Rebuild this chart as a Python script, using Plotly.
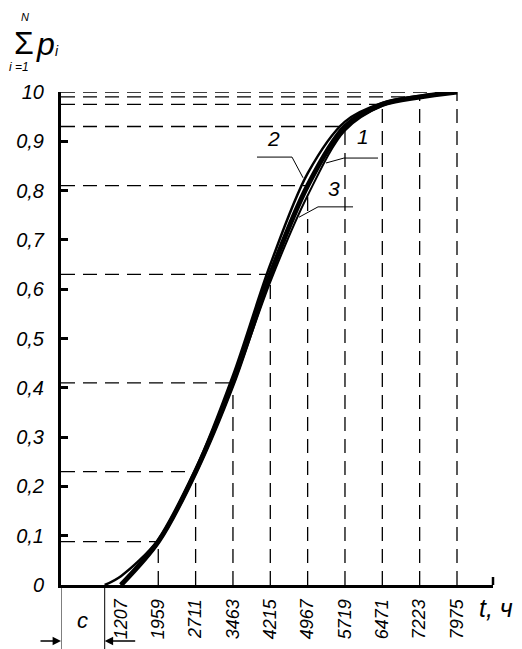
import plotly.graph_objects as go

# ---- data ----
t_ticks = [1207, 1959, 2711, 3463, 4215, 4967, 5719, 6471, 7223, 7975]
t_labels = ["1207", "1959", "2711", "3463", "4215", "4967", "5719", "6471", "7223", "7975"]
F_emp = [0, 0.088, 0.23, 0.41, 0.63, 0.81, 0.93, 0.975, 0.99, 1.0]

c_shift = 880
t_curve2 = [880, 1207, 1959, 2711, 3463, 4215, 4967, 5719, 6471, 7223, 7975]
F_curve2 = [0, 0.018, 0.092, 0.235, 0.425, 0.65, 0.835, 0.94, 0.978, 0.992, 1.0]
t_curve3 = [1207, 1959, 2711, 3463, 4215, 4967, 5719, 6471, 7223, 7975]
F_curve3 = [0, 0.085, 0.225, 0.405, 0.615, 0.79, 0.922, 0.972, 0.99, 1.0]

y_ticks = [0, 0.1, 0.2, 0.3, 0.4, 0.5, 0.6, 0.7, 0.8, 0.9, 1.0]
y_labels = ["0", "0,1", "0,2", "0,3", "0,4", "0,5", "0,6", "0,7", "0,8", "0,9", "10"]

FONT = "Liberation Sans Narrow, Liberation Sans, Arial, sans-serif"
DASH = "14px,8px"

fig = go.Figure()

# dashed guide lines
hx, hy, vx, vy = [], [], [], []
for t, F in zip(t_ticks[1:], F_emp[1:]):
    hx += [0, t, None]
    hy += [F, F, None]
    vx += [t, t, None]
    vy += [0, F, None]
fig.add_trace(go.Scatter(x=hx, y=hy, mode="lines", line=dict(color="black", width=1.3, dash=DASH),
                         hoverinfo="skip", showlegend=False, cliponaxis=False))
fig.add_trace(go.Scatter(x=vx, y=vy, mode="lines", line=dict(color="black", width=1.3, dash=DASH),
                         hoverinfo="skip", showlegend=False, cliponaxis=False))

# curves
fig.add_trace(go.Scatter(x=t_curve2, y=F_curve2, mode="lines", name="2",
                         line=dict(color="black", width=2.5, shape="spline", smoothing=0.9),
                         showlegend=False, cliponaxis=False))
fig.add_trace(go.Scatter(x=t_curve3, y=F_curve3, mode="lines", name="3",
                         line=dict(color="black", width=2, shape="spline", smoothing=0.9),
                         showlegend=False, cliponaxis=False))
fig.add_trace(go.Scatter(x=t_ticks, y=F_emp, mode="lines", name="1",
                         line=dict(color="black", width=5, shape="spline", smoothing=0.9),
                         showlegend=False, cliponaxis=False))

# leader lines for curve labels
leaders = [
    ([3947, 4652, 4874], [0.868, 0.868, 0.826]),
    ([6384, 5699, 5337], [0.866, 0.866, 0.856]),
    ([5881, 5176, 4793], [0.767, 0.767, 0.746]),
]
for lx, ly in leaders:
    fig.add_trace(go.Scatter(x=lx, y=ly, mode="lines", line=dict(color="black", width=1),
                             hoverinfo="skip", showlegend=False, cliponaxis=False))

ann = []
for txt, x, y in [("2", 4270, 0.905), ("1", 6082, 0.909), ("3", 5498, 0.805)]:
    ann.append(dict(x=x, y=y, xref="x", yref="y", text=txt, showarrow=False,
                    xanchor="center", yanchor="middle",
                    font=dict(family=FONT, size=21, color="black", style="italic")))

# positions given in page pixels -> paper fractions of the plot area (61..493, 92..585)
def px(x):
    return (x - 61) / 432
def py(y):
    return (585 - y) / 493

def label(text, x, y, size, italic=True):
    f = dict(family=FONT, size=size, color="black")
    if italic:
        f["style"] = "italic"
    return dict(x=px(x), y=py(y), xref="paper", yref="paper", text=text, showarrow=False,
                xanchor="center", yanchor="middle", font=f)

ann += [
    label("Σ", 24, 43, 32, italic=False),
    label("p", 45, 44, 32),
    label("i", 57, 51, 14),
    label("N", 25, 17, 11),
    label("i =1", 19, 67, 12),
    label("t, ч", 496, 608, 25),
    label("c", 82, 620, 22),
    # dimension arrows for c
    dict(x=0, y=py(641), xref="x", yref="paper", ax=-22, ay=0, text="", showarrow=True,
         arrowhead=2, arrowsize=1.2, arrowwidth=1.4, arrowcolor="black"),
    dict(x=c_shift, y=py(641), xref="x", yref="paper", ax=32, ay=0, text="", showarrow=True,
         arrowhead=2, arrowsize=1.2, arrowwidth=1.4, arrowcolor="black"),
]

shapes = [
    dict(type="line", xref="x", yref="paper", x0=0, x1=0, y0=0, y1=py(649), line=dict(color="black", width=1)),
    dict(type="line", xref="x", yref="paper", x0=c_shift, x1=c_shift, y0=0, y1=py(649), line=dict(color="black", width=1)),
    dict(type="line", xref="paper", yref="paper", x0=1, x1=1, y0=0, y1=py(577), line=dict(color="black", width=2.5)),
]

# the page body has an 8px margin, so the figure is 8px smaller and offset
fig.update_layout(
    template="none",
    width=514, height=641,
    margin=dict(l=53, r=29, t=84, b=64, autoexpand=False),
    paper_bgcolor="white", plot_bgcolor="white",
    annotations=ann, shapes=shapes,
    xaxis=dict(range=[0, 8700], showline=True, linecolor="black", linewidth=3, showgrid=False,
               zeroline=False, tickvals=t_ticks, ticktext=t_labels, tickangle=-90, ticks="",
               automargin=False,
               tickfont=dict(family=FONT, size=18, color="black", style="italic"), ticklabelstandoff=4),
    yaxis=dict(range=[0, 1.0], showline=True, linecolor="black", linewidth=3, showgrid=False,
               zeroline=False, tickvals=y_ticks, ticktext=y_labels, ticks="inside", ticklen=7,
               tickwidth=3, tickcolor="black", automargin=False,
               tickfont=dict(family=FONT, size=20, color="black", style="italic"), ticklabelstandoff=10),
)

fig.write_html("out.html")
